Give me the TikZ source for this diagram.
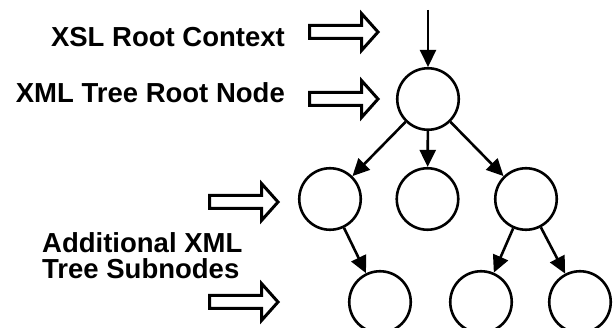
\documentclass[tikz,border=0pt]{standalone}
\usepackage{fontspec}
\setmainfont{Liberation Sans}
\usepackage{tikz}
\usetikzlibrary{positioning,calc,shapes,arrows.meta}

\begin{document}
\begin{tikzpicture}[x=1pt,y=-1pt,
    elem/.style={circle,draw,line width=2.6pt,inner sep=0pt,minimum size=61.5pt},
    edge/.style={line width=2.6pt,-{Triangle[length=17pt,width=16pt]}},
    pointer/.style={line width=3pt,miter limit=4},
    lbl/.style={font=\fontsize{27.5}{26}\selectfont\bfseries,inner sep=0pt}]
      \useasboundingbox (0,0) rectangle (613,328);
      % tree
      \node[elem] (root) at (428,99) {};
      \node[elem] (c1) at (330,199) {};\node[elem] (c2) at (427.5,199) {};\node[elem] (c3) at (526,199) {};
      \node[elem] (d1) at (380,302) {};\node[elem] (d2) at (481,302) {};\node[elem] (d3) at (580,302) {};
      \coordinate (top) at (428,10);
      \draw[edge] (top) -- (root);
      \foreach \c in {c1,c2,c3}{\draw[edge] (root) -- (\c);}
      \draw[edge] (c1) -- (d1);
      \draw[edge] (c3) -- (d2);\draw[edge] (c3) -- (d3);
      % pointers and labels
      \coordinate (p1) at (344,32);\coordinate (p2) at (344,99);
      \coordinate (p3) at (244,202);\coordinate (p4) at (244,302);
      \foreach \p in {p1,p2,p3,p4}{\draw[pointer] ($(\p)+(-34.5,-6.5)$) -- ++(52,0) -- ++(0,-12) -- ($(\p)+(34,0)$) -- ($(\p)+(17.5,18.5)$) -- ++(0,-12) -- ($(\p)+(-34.5,6.5)$) -- cycle;}
      \node[lbl,anchor=base east] (xsl) at (285,47) {XSL Root Context};
      \node[lbl,anchor=base east] (xml) at (285,103) {XML Tree Root Node};
      \node[lbl,anchor=north west,align=left] (sub) at (42,232) {Additional XML\\Tree Subnodes};
\end{tikzpicture}
\end{document}
